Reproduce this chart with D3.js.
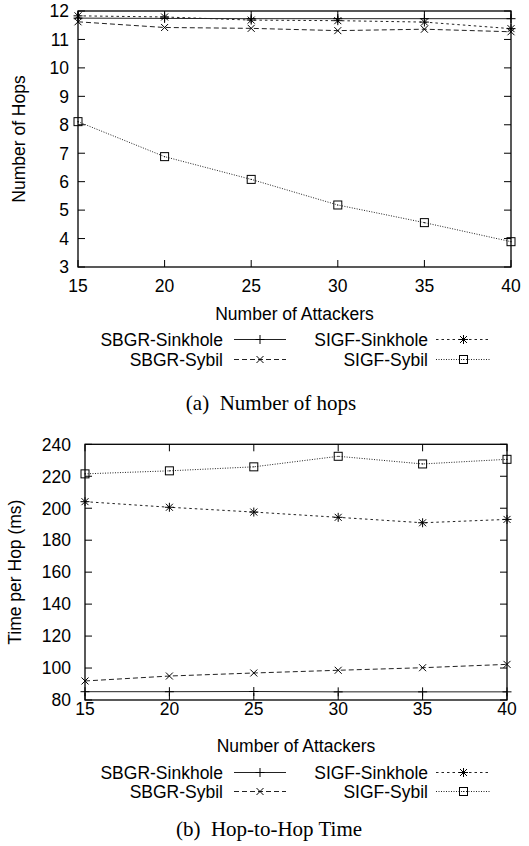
<!DOCTYPE html>
<html>
<head>
<meta charset="utf-8">
<script src="https://cdn.jsdelivr.net/npm/d3@7"></script>
<style>
    body { margin: 0; background: #fff; }
    svg { display: block; }
    text { font-family: "Liberation Sans", Arial, Helvetica, sans-serif; fill: #000; }
    .caption { font-family: "Liberation Serif", "Times New Roman", serif; }
</style>
</head>
<body>
<svg id="chart" width="529" height="846"></svg>
<script>
// x values shared by both panels
const attackers = [15, 20, 25, 30, 35, 40];

// (a) number of hops
const hopsSbgrSinkhole = [11.75, 11.74, 11.73, 11.73, 11.73, 11.73];
const hopsSbgrSybil = [11.62, 11.42, 11.39, 11.31, 11.36, 11.27];
const hopsSigfSinkhole = [11.83, 11.79, 11.68, 11.66, 11.61, 11.38];
const hopsSigfSybil = [8.11, 6.88, 6.08, 5.18, 4.56, 3.89];
const hopsTicks = [3, 4, 5, 6, 7, 8, 9, 10, 11, 12];

// (b) hop-to-hop time (ms)
const timeSbgrSinkhole = [85.2, 85.2, 85.3, 85.1, 85.1, 85.1];
const timeSbgrSybil = [91.9, 95.0, 96.9, 98.6, 100.2, 102.3];
const timeSigfSinkhole = [204.1, 200.6, 197.6, 194.3, 190.9, 193.0];
const timeSigfSybil = [221.5, 223.4, 225.9, 232.5, 227.7, 230.6];
const timeTicks = [80, 100, 120, 140, 160, 180, 200, 220, 240];

const seriesNames = ['SBGR-Sinkhole', 'SBGR-Sybil', 'SIGF-Sinkhole', 'SIGF-Sybil'];

const styles = {
    'SBGR-Sinkhole': {dash: null, marker: 'plus'},
    'SBGR-Sybil': {dash: '5,3', marker: 'cross'},
    'SIGF-Sinkhole': {dash: '2.5,3', marker: 'star'},
    'SIGF-Sybil': {dash: '1,1.5', marker: 'square'}
};

const svg = d3.select('#chart');

function drawMarker(g, type, x, y) {
    const m = g.append('g').attr('transform', `translate(${x},${y})`)
        .attr('stroke', '#000').attr('stroke-width', 1).attr('fill', 'none');
    const r = 4.5, d = 3.5;
    if (type === 'plus' || type === 'star') {
        m.append('line').attr('x1', -r).attr('x2', r);
        m.append('line').attr('y1', -r).attr('y2', r);
    }
    if (type === 'cross' || type === 'star') {
        m.append('line').attr('x1', -d).attr('y1', -d).attr('x2', d).attr('y2', d);
        m.append('line').attr('x1', -d).attr('y1', d).attr('x2', d).attr('y2', -d);
    }
    if (type === 'square') {
        m.append('rect').attr('x', -4).attr('y', -4).attr('width', 8).attr('height', 8);
        m.append('circle').attr('r', 0.6).attr('fill', '#000').attr('stroke', 'none');
    }
}

function drawPanel(p) {
    const g = svg.append('g');
    const x = d3.scaleLinear().domain([15, 40]).range([p.left, p.right]);
    const y = d3.scaleLinear().domain(p.yDomain).range([p.bottom, p.top]);

    // inward ticks on all four sides
    const tickLen = 7;
    const ticks = g.append('g').attr('stroke', '#000').attr('stroke-width', 1);
    attackers.forEach(v => {
        ticks.append('line').attr('x1', x(v)).attr('x2', x(v)).attr('y1', p.bottom).attr('y2', p.bottom - tickLen);
        ticks.append('line').attr('x1', x(v)).attr('x2', x(v)).attr('y1', p.top).attr('y2', p.top + tickLen);
        g.append('text').attr('x', x(v)).attr('y', p.xTickY)
            .attr('text-anchor', 'middle').style('font-size', '17.5px').text(v);
    });
    p.yTicks.forEach(v => {
        ticks.append('line').attr('x1', p.left).attr('x2', p.left + tickLen).attr('y1', y(v)).attr('y2', y(v));
        ticks.append('line').attr('x1', p.right).attr('x2', p.right - tickLen).attr('y1', y(v)).attr('y2', y(v));
        g.append('text').attr('x', p.yTickX).attr('y', y(v)).attr('dy', '0.36em')
            .attr('text-anchor', 'end').style('font-size', '17.5px').text(v);
    });

    // data lines and markers
    const line = d3.line().x((d, i) => x(attackers[i])).y(d => y(d));
    seriesNames.forEach(name => {
        const st = styles[name];
        g.append('path').datum(p.series[name])
            .attr('d', line)
            .attr('fill', 'none')
            .attr('stroke', '#222')
            .attr('stroke-width', 1)
            .attr('stroke-dasharray', st.dash);
        p.series[name].forEach((v, i) => drawMarker(g, st.marker, x(attackers[i]), y(v)));
    });

    // frame
    g.append('rect')
        .attr('x', p.left).attr('y', p.top)
        .attr('width', p.right - p.left).attr('height', p.bottom - p.top)
        .attr('fill', 'none').attr('stroke', '#000').attr('stroke-width', 1.3);

    // axis titles
    g.append('text')
        .attr('transform', `translate(${p.yTitleX},${(p.top + p.bottom) / 2}) rotate(-90)`)
        .attr('text-anchor', 'middle').style('font-size', '17.5px').text(p.yTitle);
    g.append('text').attr('x', (p.left + p.right) / 2).attr('y', p.xTitleY)
        .attr('text-anchor', 'middle').style('font-size', '17.5px').text('Number of Attackers');

    // legend, two columns
    const legendCols = [
        {textX: 223, x1: 234, x2: 286},
        {textX: 428, x1: 436, x2: 491}
    ];
    const legendOrder = [
        ['SBGR-Sinkhole', 0, 0], ['SIGF-Sinkhole', 1, 0],
        ['SBGR-Sybil', 0, 1], ['SIGF-Sybil', 1, 1]
    ];
    legendOrder.forEach(([name, c, r]) => {
        const col = legendCols[c];
        const ly = p.legendY[r];
        const st = styles[name];
        g.append('text').attr('x', col.textX).attr('y', ly)
            .attr('text-anchor', 'end').style('font-size', '17.5px').text(name);
        g.append('line').attr('x1', col.x1).attr('x2', col.x2)
            .attr('y1', ly - 6).attr('y2', ly - 6)
            .attr('stroke', '#222').attr('stroke-width', 1)
            .attr('stroke-dasharray', st.dash);
        drawMarker(g, st.marker, (col.x1 + col.x2) / 2, ly - 6);
    });

    // caption
    g.append('text').attr('class', 'caption')
        .attr('x', p.captionX).attr('y', p.captionY)
        .attr('text-anchor', 'middle').style('font-size', '21px')
        .attr('xml:space', 'preserve')
        .text(p.caption);
}

drawPanel({
    left: 78, right: 511, top: 11, bottom: 267,
    yDomain: [3, 12], yTicks: hopsTicks,
    yTickX: 69, xTickY: 291.5, xTitleY: 319.5, yTitleX: 25,
    yTitle: 'Number of Hops',
    legendY: [345.5, 365.5],
    captionX: 271, captionY: 410, caption: '(a)  Number of hops',
    series: {
        'SBGR-Sinkhole': hopsSbgrSinkhole,
        'SBGR-Sybil': hopsSbgrSybil,
        'SIGF-Sinkhole': hopsSigfSinkhole,
        'SIGF-Sybil': hopsSigfSybil
    }
});

drawPanel({
    left: 85, right: 507, top: 444.3, bottom: 700,
    yDomain: [80, 240], yTicks: timeTicks,
    yTickX: 71, xTickY: 714.5, xTitleY: 751.5, yTitleX: 21,
    yTitle: 'Time per Hop (ms)',
    legendY: [778.5, 797.5],
    captionX: 269, captionY: 836, caption: '(b)  Hop-to-Hop Time',
    series: {
        'SBGR-Sinkhole': timeSbgrSinkhole,
        'SBGR-Sybil': timeSbgrSybil,
        'SIGF-Sinkhole': timeSigfSinkhole,
        'SIGF-Sybil': timeSigfSybil
    }
});
</script>
</body>
</html>
